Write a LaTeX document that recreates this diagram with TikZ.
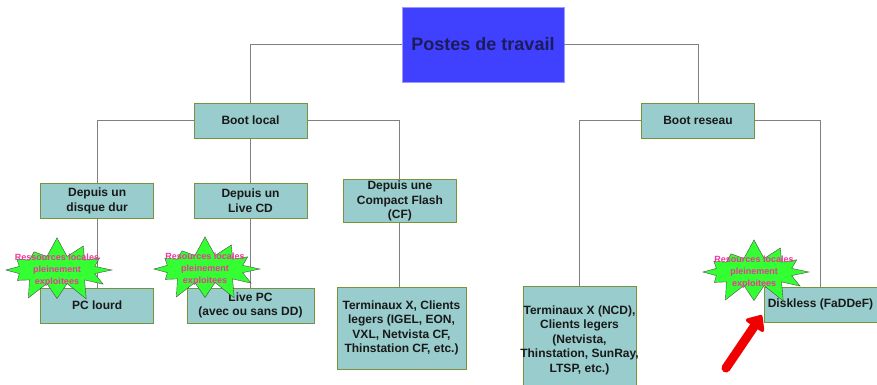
\documentclass[tikz,border=0pt]{standalone}
\usepackage{fontspec}
\setmainfont{Liberation Sans}
\usepackage{xcolor}
\usepackage{tikz}
\usetikzlibrary{arrows.meta,positioning,shapes.symbols}
\definecolor{postesblue}{HTML}{4040FF}
\definecolor{postesrim}{HTML}{9999FF}
\definecolor{postesink}{HTML}{1C1C5C}
\definecolor{boxteal}{HTML}{99CCCC}
\definecolor{boxrim}{HTML}{77933C}
\definecolor{linkgray}{HTML}{808080}
\definecolor{burstgreen}{HTML}{33FF33}
\definecolor{burstpink}{HTML}{F0359C}
\definecolor{arrowred}{HTML}{F00000}
\tikzset{
  rootbox/.style={rectangle,draw=postesrim,fill=postesblue,text=postesink,align=center,minimum width=162pt,minimum height=75pt,font=\fontsize{18}{21}\selectfont\bfseries},
  box/.style={rectangle,draw=boxrim,fill=boxteal,text=black!90,align=center,minimum width=113pt,minimum height=35pt,inner sep=1pt,font=\fontsize{12}{14.5}\selectfont\bfseries},
  link/.style={draw=linkgray,line width=1pt},
  burst/.style={starburst,starburst points=12,starburst point height=20pt,random starburst=7,draw=black!70,fill=burstgreen,minimum width=118pt,minimum height=68pt,inner sep=0pt},
  bursttext/.style={align=center,text=burstpink,font=\fontsize{9}{12}\selectfont\bfseries},
  pointer/.style={-{Triangle[round,length=15pt,width=25pt]},line width=9pt,line cap=round,draw=arrowred}
}
\begin{document}
\begin{tikzpicture}[x=1pt,y=-1pt]
\useasboundingbox (0,0) rectangle (877,384);
% top and boot levels
\node[rootbox] (postes) at (483,44.5) {Postes de travail};
\node[box] (bootlocal) at (250.5,120.5) {Boot local};
\node[box] (bootreseau) at (698,120.5) {Boot reseau};
% local boot media
\node[box,below=45pt of bootlocal] (livecd) {Depuis un\\Live CD};
\node[box,left=40pt of livecd] (disque) {Depuis un\\disque dur};
\node[box,right=36pt of livecd,minimum height=43pt] (cf) {Depuis une\\Compact Flash\\(CF)};
% workstations
\node[box,below=69pt of disque] (pclourd) {PC lourd};
\node[box,below=69pt of livecd,minimum width=127pt] (livepc) {Live PC\\(avec ou sans DD)};
\node[box,minimum width=129pt,minimum height=82pt] (termcf) at (401.5,328) {Terminaux X, Clients\\legers (IGEL, EON,\\VXL, Netvista CF,\\Thinstation CF, etc.)};
\node[box,inner xsep=-3pt,minimum height=108pt] (termncd) at (579.5,340) {Terminaux X (NCD),\\Clients legers\\(Netvista,\\Thinstation, SunRay,\\LTSP, etc.)};
\node[box] (diskless) at (820.5,304.5) {Diskless (FaDDeF)};
% tree links
\draw[link] (postes.west) -| (bootlocal.north);
\draw[link] (postes.east) -| (bootreseau.north);
\draw[link] (bootlocal.west) -| (disque.north);
\draw[link] (bootlocal.south) -- (livecd.north);
\draw[link] (bootlocal.east) -| (cf.north);
\draw[link] (disque.south) -- (pclourd.north);
\draw[link] (livecd.south) -- (livepc.north);
\draw[link] (cf.south) -- (cf.south |- termcf.north);
\draw[link] (bootreseau.west) -| (termncd.north);
\draw[link] (bootreseau.east) -| (diskless.north);
% starbursts
\node[burst] (burst1) at (57,270) {};
\node[bursttext] at (burst1) {Ressources locales\\pleinement\\exploitees};
\node[burst] (burst2) at (205,269) {};
\node[bursttext] at (burst2) {Resources locales\\pleinement\\exploitees};
\node[burst] (burst3) at (754,272) {};
\node[bursttext] at (burst3) {Resources locales\\pleinement\\exploitees};
% red pointer
\coordinate (pointertail) at (726,368);
\draw[pointer] (pointertail) -- ([shift={(-2,-7)}]diskless.south west);
\end{tikzpicture}
\end{document}
